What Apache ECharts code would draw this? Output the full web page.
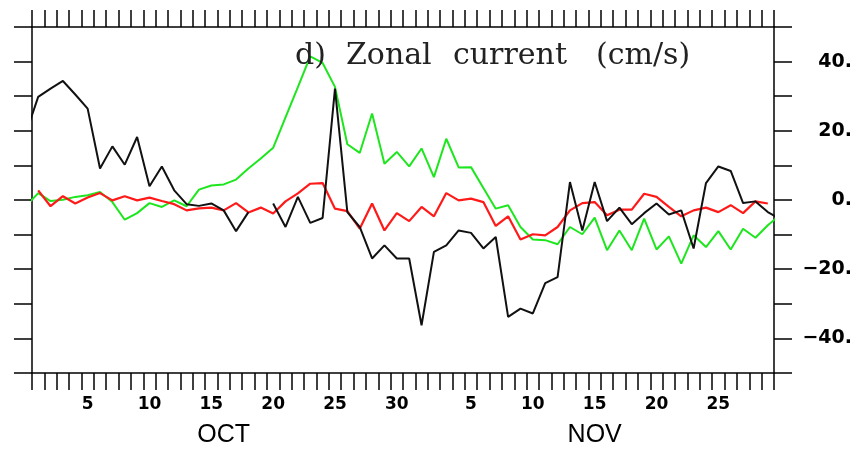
<!DOCTYPE html>
<html>
<head>
<meta charset="utf-8">
<script src="https://cdn.jsdelivr.net/npm/echarts@6/dist/echarts.min.js"></script>
<style>
  html, body { margin: 0; padding: 0; background: #fff; }
  #chart { width: 862px; height: 451px; }
</style>
</head>
<body>
<div id="chart"></div>
<script>
// Daily zonal current (cm/s), 1 Oct - 29 Nov, one value per day plotted at noon.
// The x axis counts days from 1 Oct 00:00.
const black = [
  29.8, 32.2, 34.4, 30.5, 26.4, 9.1, 15.5, 10.2, 18.2, 4.0,
  9.7, 2.8, -1.2, -1.7, -1.0, -3.0, -9.0, -3.5, null, -1.0,
  -7.8, 0.9, -6.6, -5.2, 32.2, -3.5, -7.8, -16.9, -13.1, -16.9,
  -16.9, -36.2, -15.0, -13.1, -8.8, -9.5, -14.0, -10.7, -33.8, -31.4,
  -32.8, -24.0, -22.3, 5.2, -8.8, 5.2, -6.1, -2.2, -7.0, -3.8,
  -1.0, -4.2, -3.0, -14.0, 4.9, 9.7, 8.4, -0.9, -0.4, -3.5
];
const red = [
  2.8, -1.8, 1.1, -1.0, 0.7, 2.0, -0.1, 1.1, -0.1, 0.7,
  -0.3, -1.2, -3.0, -2.4, -2.2, -3.0, -0.9, -3.6, -2.2, -3.9,
  -0.4, 1.9, 4.7, 4.9, -2.5, -3.2, -8.3, -1.0, -8.8, -3.8,
  -6.1, -2.0, -4.7, 2.0, -0.1, 0.4, -0.6, -7.5, -4.7, -11.4,
  -9.9, -10.2, -7.8, -3.0, -0.9, -0.6, -4.4, -2.8, -2.8, 1.8,
  0.9, -2.0, -4.7, -3.0, -2.2, -3.5, -1.5, -3.8, -0.4, -1.0
];
const green = [
  2.0, -0.3, 0.1, 0.9, 1.4, 2.3, -0.6, -5.7, -3.8, -0.9,
  -2.0, -0.1, -1.8, 3.0, 4.2, 4.5, 5.9, 9.1, 12.0, 15.1,
  23.9, 32.6, 41.5, 39.6, 32.7, 16.1, 13.6, 25.0, 10.5, 13.9,
  9.7, 14.9, 6.6, 17.7, 9.4, 9.5, 3.5, -2.5, -1.5, -7.8,
  -11.4, -11.6, -12.8, -7.8, -9.9, -5.1, -14.5, -8.8, -14.5, -5.4,
  -14.3, -10.5, -18.4, -10.2, -13.6, -9.0, -14.3, -8.3, -10.9, -7.3
];
// Values for the day before and the day after the record, so the lines reach the frame.
const blackEdges = [19.2, -5.5];
const greenEdges = [-1.8, -4.3];

const octDayLabels = [5, 10, 15, 20, 25, 30];
const novDayLabels = [5, 10, 15, 20, 25];
const monthNames = ['OCT', 'NOV'];
const monthLabelDays = [15.5, 45.5];
const yTickLabels = [-40, -20, 0, 20, 40];
const titleWords = ['d)', 'Zonal', 'current', '(cm/s)'];

const OCT_LEN = 31;

function toPoints(vals, edges) {
  const pts = vals.map((v, i) => [i + 0.5, v]);
  if (edges) {
    pts.unshift([-0.5, edges[0]]);
    pts.push([vals.length + 0.5, edges[1]]);
  }
  return pts;
}

const dayLabelPos = octDayLabels.map(d => d - 0.5)
  .concat(novDayLabels.map(d => OCT_LEN + d - 0.5));

const frameLine = { show: true, onZero: false, lineStyle: { color: '#000', width: 1.5 } };
const frameTick = (len) => ({ show: true, length: len, lineStyle: { color: '#000', width: 1.5 } });

// Title words set out with wide gaps between them
const titleLeft = [295, 346, 453, 596];
const titleGraphics = titleWords.map((w, i) => ({
  type: 'text', left: titleLeft[i], top: 41, z: 10,
  style: { text: w, fontFamily: 'DejaVu Serif', fontSize: 30, fill: '#222' }
}));

const chart = echarts.init(document.getElementById('chart'));
chart.setOption({
  animation: false,
  backgroundColor: '#fff',
  grid: { left: 32, right: 88, top: 27, bottom: 78 },
  graphic: titleGraphics,
  xAxis: [
    {
      type: 'value', min: 0, max: 60, interval: 1, position: 'bottom',
      axisLine: frameLine, axisTick: frameTick(17), splitLine: { show: false },
      axisLabel: {
        customValues: dayLabelPos,
        formatter: v => String(Math.round(v < OCT_LEN ? v + 0.5 : v - OCT_LEN + 0.5)),
        fontFamily: 'DejaVu Sans', fontWeight: 'bold', fontSize: 17, color: '#000', margin: 23
      }
    },
    {
      type: 'value', min: 0, max: 60, interval: 1, position: 'top',
      axisLine: frameLine, axisTick: frameTick(17), splitLine: { show: false },
      axisLabel: { show: false }
    },
    {
      type: 'value', min: 0, max: 60, position: 'bottom',
      axisLine: { show: false, onZero: false }, axisTick: { show: false }, splitLine: { show: false },
      axisLabel: {
        customValues: monthLabelDays,
        formatter: v => (v < OCT_LEN ? monthNames[0] : monthNames[1]),
        fontFamily: 'Liberation Sans', fontSize: 25, color: '#000', margin: 50
      }
    }
  ],
  yAxis: [
    {
      type: 'value', min: -50, max: 50, interval: 10, position: 'left',
      axisLine: frameLine, axisTick: frameTick(18), splitLine: { show: false },
      axisLabel: { show: false }
    },
    {
      type: 'value', min: -50, max: 50, interval: 10, position: 'right',
      axisLine: frameLine, axisTick: frameTick(18), splitLine: { show: false },
      axisLabel: {
        customValues: yTickLabels,
        formatter: v => (v < 0 ? '\u2212' + Math.abs(v) : String(v)) + '.',
        align: 'right', margin: 78,
        fontFamily: 'DejaVu Sans', fontWeight: 'bold', fontSize: 19, color: '#000'
      }
    }
  ],
  series: [
    {
      name: 'green', type: 'line', xAxisIndex: 0, yAxisIndex: 0,
      data: toPoints(green, greenEdges), showSymbol: false, clip: true,
      lineStyle: { color: '#1ee61e', width: 2 }, itemStyle: { color: '#1ee61e' }, z: 2
    },
    {
      name: 'red', type: 'line', xAxisIndex: 0, yAxisIndex: 0,
      data: toPoints(red), showSymbol: false, clip: true,
      lineStyle: { color: '#ff1a1a', width: 2.2 }, itemStyle: { color: '#ff1a1a' }, z: 3
    },
    {
      name: 'black', type: 'line', xAxisIndex: 0, yAxisIndex: 0,
      data: toPoints(black, blackEdges), showSymbol: false, clip: true, connectNulls: false,
      lineStyle: { color: '#111', width: 2 }, itemStyle: { color: '#111' }, z: 4
    }
  ]
});
</script>
</body>
</html>
